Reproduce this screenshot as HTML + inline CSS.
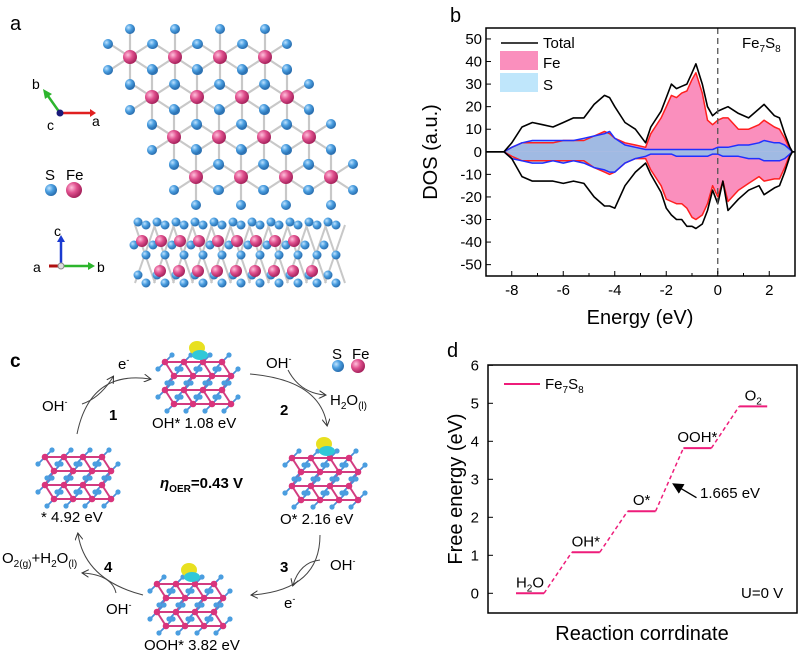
<!DOCTYPE html>
<html><head><meta charset="utf-8">
<style>
html,body{margin:0;padding:0;background:#fff;}
svg{display:block;font-family:"Liberation Sans",Arial,sans-serif;}
</style></head>
<body>
<svg id="fig" width="800" height="655" viewBox="0 0 800 655" xmlns="http://www.w3.org/2000/svg">
<defs>
<radialGradient id="gS" cx="35%" cy="35%" r="65%"><stop offset="0" stop-color="#bfe3ff"/><stop offset="0.5" stop-color="#4a9ee0"/><stop offset="1" stop-color="#2a6fb0"/></radialGradient>
<radialGradient id="gF" cx="35%" cy="35%" r="65%"><stop offset="0" stop-color="#ffc0dc"/><stop offset="0.5" stop-color="#e0508e"/><stop offset="1" stop-color="#a8245e"/></radialGradient>
<marker id="ah" markerWidth="8" markerHeight="8" refX="6" refY="4" orient="auto"><path d="M0,0 L7,4 L0,8" fill="none" stroke="#333" stroke-width="1"/></marker>
<marker id="ahk" markerWidth="8" markerHeight="8" refX="6" refY="4" orient="auto"><path d="M0,0 L8,4 L0,8 Z" fill="#000"/></marker>
</defs>

<!-- Panel a -->
<g>
<text x="10" y="30" font-size="20">a</text>
<g id="structTop"></g>
<g id="structSide"></g>
<g>
<line x1="60" y1="113" x2="48" y2="96" stroke="#2db52d" stroke-width="2.5"/>
<polygon points="43,89 52,94 45,99" fill="#2db52d"/>
<line x1="60" y1="113" x2="90" y2="113" stroke="#e02020" stroke-width="2.5"/>
<polygon points="90,109 96,113 90,117" fill="#e02020"/>
<circle cx="60" cy="113" r="3.5" fill="#1a1a7a"/>
<text x="32" y="89" font-size="14">b</text><text x="92" y="126" font-size="14">a</text><text x="47" y="130" font-size="14">c</text>
</g>
<g>
<text x="45" y="180" font-size="15">S</text><text x="66" y="180" font-size="15">Fe</text>
<circle cx="51" cy="190" r="6" fill="url(#gS)"/><circle cx="74" cy="190" r="8" fill="url(#gF)"/>
</g>
<g>
<line x1="61" y1="266" x2="61" y2="242" stroke="#1a3ad0" stroke-width="2.5"/><polygon points="57,242 61,235 65,242" fill="#1a3ad0"/>
<line x1="61" y1="266" x2="88" y2="266" stroke="#2db52d" stroke-width="2.5"/><polygon points="88,262 95,266 88,270" fill="#2db52d"/>
<line x1="61" y1="266" x2="49" y2="266" stroke="#b01010" stroke-width="3"/>
<circle cx="61" cy="266" r="3" fill="#ddd" stroke="#888"/>
<text x="54" y="236" font-size="14">c</text><text x="97" y="272" font-size="14">b</text><text x="33" y="272" font-size="14">a</text>
</g>
</g>

<!-- Panel b -->
<g>
<text x="450" y="22" font-size="20">b</text>
<g id="dos"></g>
</g>

<!-- Panel c -->
<g>
<text x="10" y="367" font-size="19" font-weight="bold">c</text>
<g id="structC"></g>
<g fill="none" stroke="#444" stroke-width="1">
<path d="M77,434 Q90,370 150,379" marker-end="url(#ah)"/>
<path d="M82,404 Q100,398 113,377" marker-end="url(#ah)"/>
<path d="M250,374 Q320,380 327,425" marker-end="url(#ah)"/>
<path d="M288,370 Q300,393 325,395" marker-end="url(#ah)"/>
<path d="M320,535 Q320,590 252,595" marker-end="url(#ah)"/>
<path d="M320,560 Q300,562 293,585" marker-end="url(#ah)"/>
<path d="M143,595 Q85,580 78,534" marker-end="url(#ah)"/>
<path d="M116,593 Q112,575 83,573" marker-end="url(#ah)"/>
</g>
<g font-size="15">
<text x="118" y="369">e<tspan font-size="9" dy="-6">-</tspan></text>
<text x="42" y="411">OH<tspan font-size="9" dy="-6">-</tspan></text>
<text x="109" y="420" font-weight="bold">1</text>
<text x="266" y="368">OH<tspan font-size="9" dy="-6">-</tspan></text>
<text x="330" y="405">H<tspan font-size="10" dy="4">2</tspan><tspan dy="-4">O</tspan><tspan font-size="10" dy="4">(l)</tspan></text>
<text x="280" y="415" font-weight="bold">2</text>
<text x="330" y="570">OH<tspan font-size="9" dy="-6">-</tspan></text>
<text x="280" y="572" font-weight="bold">3</text>
<text x="284" y="608">e<tspan font-size="9" dy="-6">-</tspan></text>
<text x="2" y="563">O<tspan font-size="10" dy="4">2(g)</tspan><tspan dy="-4">+H</tspan><tspan font-size="10" dy="4">2</tspan><tspan dy="-4">O</tspan><tspan font-size="10" dy="4">(l)</tspan></text>
<text x="104" y="572" font-weight="bold">4</text>
<text x="106" y="614">OH<tspan font-size="9" dy="-6">-</tspan></text>
<text x="152" y="428">OH* 1.08 eV</text>
<text x="41" y="522">* 4.92 eV</text>
<text x="280" y="524">O*  2.16 eV</text>
<text x="144" y="650">OOH*  3.82 eV</text>
<text x="160" y="488" font-weight="bold"><tspan font-style="italic">η</tspan><tspan font-size="10" dy="4">OER</tspan><tspan dy="-4">=0.43 V</tspan></text>
<text x="332" y="359">S</text><text x="352" y="359">Fe</text>
</g>
<circle cx="338" cy="366" r="6" fill="url(#gS)"/><circle cx="358" cy="366" r="7" fill="url(#gF)"/>
</g>

<!-- Panel d -->
<g>
<text x="447" y="357" font-size="20">d</text>
<g id="fe"></g>
</g>
</svg>

<script>
const NS="http://www.w3.org/2000/svg";
function mk(tag,attrs,parent){const e=document.createElementNS(NS,tag);for(const k in attrs)e.setAttribute(k,attrs[k]);parent.appendChild(e);return e;}

// ---------- Panel b data ----------
const energy=[-8.3,-8,-7.6,-7.2,-6.8,-6.4,-6.0,-5.6,-5.2,-4.8,-4.4,-4.2,-4.0,-3.6,-3.2,-2.8,-2.6,-2.2,-2.0,-1.8,-1.6,-1.4,-1.2,-1.0,-0.85,-0.6,-0.4,-0.2,0,0.2,0.4,0.8,1.2,1.6,1.8,2.2,2.4,2.6,2.8,2.9];
const totalUp=[0,4,11,13,12,11,13,15,15,21,25,24,20,13,10,4,11,18,24,30,28,29,30,35,39,30,20,16,18,19,20,17,15,19,21,16,15,8,2,0];
const feUp=[0,2,4,4,4,4,5,5,5,7,9,8,6,4,3,2,8,15,20,25,24,26,27,32,35,26,14,12,14,15,15,10,10,12,14,11,10,6,1,0];
const sUp=[0,2,4,5,5,5,5,5,6,7,8,9,6,3,2,1,1,1,1,1,1,1,1,1,1,1,1,1,2,2,2,3,3,4,5,4,4,3,1,0];
const totalDown=[0,-3,-11,-13,-13,-13,-14,-13,-14,-20,-24,-24,-25,-15,-9,-5,-10,-18,-25,-28,-30,-30,-33,-33,-34,-32,-26,-17,-23,-13,-26,-21,-17,-15,-19,-16,-15,-9,-2,0];
const feDown=[0,-2,-4,-4,-4,-4,-4,-4,-4,-7,-9,-10,-9,-5,-3,-3,-8,-15,-21,-22,-23,-23,-25,-29,-30,-28,-23,-15,-20,-13,-22,-17,-14,-11,-13,-12,-12,-7,-1,0];
const sDown=[0,-3,-4,-5,-5,-4,-5,-4,-5,-7,-8,-9,-9,-5,-3,-2,-1,-1,-1,-1,-2,-2,-2,-2,-2,-2,-2,-1,-1,-2,-2,-2,-3,-3,-4,-4,-4,-3,-1,0];
const dosXTicks=[-8,-6,-4,-2,0,2];
const dosYTicks=[-50,-40,-30,-20,-10,0,10,20,30,40,50];

// ---------- Panel d data ----------
const states=["H2O","OH*","O*","OOH*","O2"];
const freeEnergy=[0,1.08,2.16,3.82,4.92];
const feYTicks=[0,1,2,3,4,5,6];

(function(){
 const g=document.getElementById('dos');
 const L=486,R=795,T=28,B=276;
 const xs=e=>L+(e+9)/12*(R-L);
 const ys=v=>151.8-v*2.257;
 function area(a,fill,name){
  let d="M"+xs(energy[0])+","+ys(0);
  energy.forEach((e,i)=>d+=" L"+xs(e).toFixed(1)+","+ys(a[i]).toFixed(1));
  d+=" L"+xs(energy[energy.length-1])+","+ys(0)+"Z";
  const p=mk('path',{d:d,fill:fill},g);
  
  
 }
 function line(a,col,w,name){
  let d="";
  energy.forEach((e,i)=>d+=(i?" L":"M")+xs(e).toFixed(1)+","+ys(a[i]).toFixed(1));
  d="M"+L+","+ys(0)+" L"+d.slice(1)+" L"+R+","+ys(0);
  const p=mk('path',{d:d,fill:'none',stroke:col,'stroke-width':w,'stroke-linejoin':'round'},g);
  
  
 }
 area(feUp,'#fa8fbd','fe-fill-up');area(feDown,'#fa8fbd','fe-fill-down');
 area(sUp,'rgba(130,200,240,0.75)','s-fill-up');area(sDown,'rgba(130,200,240,0.75)','s-fill-down');
 line(feUp,'#ff2020',1.5,'fe-line-up');line(feDown,'#ff2020',1.5,'fe-line-down');
 line(sUp,'#2030ff',1.5,'s-line-up');line(sDown,'#2030ff',1.5,'s-line-down');
 line(totalUp,'#000',1.6,'total-line-up');line(totalDown,'#000',1.6,'total-line-down');
 const fl=mk('line',{x1:xs(0),x2:xs(0),y1:T,y2:B,stroke:'#555','stroke-dasharray':'6,4','stroke-width':1.3},g);
 
 
 const fr=mk('rect',{x:L,y:T,width:R-L,height:B-T,fill:'none',stroke:'#000','stroke-width':1.5},g);
 
 
 dosXTicks.forEach(t=>{mk('line',{x1:xs(t),x2:xs(t),y1:B,y2:B-5,stroke:'#000'},g);
  const tx=mk('text',{x:xs(t),y:B+19,'font-size':15,'text-anchor':'middle'},g);tx.textContent=t;
  
  
  if(t<2)mk('line',{x1:xs(t+1),x2:xs(t+1),y1:B,y2:B-3,stroke:'#000'},g);});
 dosYTicks.forEach(t=>{mk('line',{x1:L,x2:L+5,y1:ys(t),y2:ys(t),stroke:'#000'},g);
  const tx=mk('text',{x:L-4,y:ys(t)+5,'font-size':15,'text-anchor':'end'},g);tx.textContent=t;
  
  });
 const yl=mk('text',{x:0,y:0,'font-size':20,'text-anchor':'middle',transform:'translate(437,152) rotate(-90)'},g);yl.textContent='DOS (a.u.)';
 
 
 const xl=mk('text',{x:640,y:324,'font-size':20,'text-anchor':'middle'},g);xl.textContent='Energy (eV)';
 
 
 const lg=mk('g',{},g);
 
 
 mk('line',{x1:501,x2:538,y1:43,y2:43,stroke:'#000','stroke-width':1.6},lg);
 mk('rect',{x:500,y:51,width:38,height:19,fill:'#fa8fbd'},lg);
 mk('rect',{x:500,y:73,width:38,height:19,fill:'#bfe6fb'},lg);
 [['Total',48],['Fe',68],['S',90]].forEach(a=>{const t=mk('text',{x:543,y:a[1],'font-size':15},lg);t.textContent=a[0];});
 const ft=mk('text',{x:742,y:48,'font-size':15},g);
 ft.innerHTML='Fe<tspan font-size="10" dy="4">7</tspan><tspan dy="-4">S</tspan><tspan font-size="10" dy="4">8</tspan>';
 
 
})();

(function(){
 const g=document.getElementById('fe');
 const L=488,R=797,T=365,B=613;
 const ys=v=>593.3-v*38;
 const xc=i=>530+i*55.8;
 const fr=mk('rect',{x:L,y:T,width:R-L,height:B-T,fill:'none',stroke:'#000','stroke-width':1.5},g);
 
 
 feYTicks.forEach(t=>{mk('line',{x1:L,x2:L+5,y1:ys(t),y2:ys(t),stroke:'#000'},g);
  const tx=mk('text',{x:L-9,y:ys(t)+5,'font-size':15,'text-anchor':'end'},g);tx.textContent=t;
  
  });
 const disp={"H2O":'H<tspan font-size="10" dy="4">2</tspan><tspan dy="-4">O</tspan>',"O2":'O<tspan font-size="10" dy="4">2</tspan>'};
 states.forEach((s,i)=>{
  const l=mk('line',{x1:xc(i)-14,x2:xc(i)+14,y1:ys(freeEnergy[i]),y2:ys(freeEnergy[i]),stroke:'#ee1c7a','stroke-width':2},g);
  
  
  if(i<states.length-1){
   const c=mk('line',{x1:xc(i)+14,x2:xc(i+1)-14,y1:ys(freeEnergy[i]),y2:ys(freeEnergy[i+1]),stroke:'#ee1c7a','stroke-width':1.5,'stroke-dasharray':'4,3'},g);
   
   
  }
  const t=mk('text',{x:xc(i),y:ys(freeEnergy[i])-6,'font-size':15,'text-anchor':'middle'},g);
  t.innerHTML=disp[s]||s;
  
  
 });
 const ax=(xc(2)+14+xc(3)-14)/2+2, ay=(ys(freeEnergy[2])+ys(freeEnergy[3]))/2+4;
 const ar=mk('line',{x1:ax+25,x2:ax+3,y1:ay+14,y2:ay+1,stroke:'#000','stroke-width':1.4,'marker-end':'url(#ahk)'},g);
 
 
 const at=mk('text',{x:700,y:498,'font-size':15},g);at.textContent='1.665 eV';
 
 
 const u=mk('text',{x:741,y:598,'font-size':15},g);u.textContent='U=0 V';
 
 
 mk('line',{x1:504,x2:540,y1:384,y2:384,stroke:'#ee1c7a','stroke-width':2},g);
 const lt=mk('text',{x:545,y:389,'font-size':15},g);
 lt.innerHTML='Fe<tspan font-size="10" dy="4">7</tspan><tspan dy="-4">S</tspan><tspan font-size="10" dy="4">8</tspan>';
 
 
 const yl=mk('text',{x:0,y:0,'font-size':20,'text-anchor':'middle',transform:'translate(462,489) rotate(-90)'},g);yl.textContent='Free energy (eV)';
 
 
 const xl=mk('text',{x:642,y:640,'font-size':20,'text-anchor':'middle'},g);xl.textContent='Reaction corrdinate';
 
 
})();

// ---------- structures ----------
(function(){
 const top=document.getElementById('structTop');
 const bonds=mk('g',{stroke:'#c8c8c8','stroke-width':2.2},top),atoms=mk('g',{},top);
 for(let r=0;r<4;r++)for(let c=0;c<4;c++){
  const x=130+c*45+r*22, y=57+r*40;
  mk('line',{x1:x-20,y1:y-13,x2:x+20,y2:y+13},bonds);
  mk('line',{x1:x+20,y1:y-13,x2:x-20,y2:y+13},bonds);
  mk('line',{x1:x,y1:y-25,x2:x,y2:y+25},bonds);
  [[-22,-13],[22,-13],[0,-28],[-22,13],[22,13],[0,28]].forEach(o=>mk('circle',{cx:x+o[0],cy:y+o[1],r:5,fill:'url(#gS)'},atoms));
 }
 for(let r=0;r<4;r++)for(let c=0;c<4;c++){const x=130+c*45+r*22,y=57+r*40;mk('circle',{cx:x,cy:y,r:7,fill:'url(#gF)'},atoms);}
 const side=document.getElementById('structSide');
 const sb=mk('g',{stroke:'#c8c8c8','stroke-width':2},side),sa=mk('g',{},side);
 for(let i=0;i<11;i++){const x=135+i*19;mk('line',{x1:x,y1:225,x2:x+20,y2:283},sb);mk('line',{x1:x+20,y1:225,x2:x,y2:283},sb);}
 for(let i=0;i<11;i++){const x=138+i*19;
  [[0,222],[8,225],[-4,245],[8,255],[0,275],[8,283]].forEach(o=>mk('circle',{cx:x+o[0],cy:o[1],r:4.5,fill:'url(#gS)'},sa));}
 for(let i=0;i<9;i++){mk('circle',{cx:142+i*19,cy:241,r:6,fill:'url(#gF)'},sa);mk('circle',{cx:160+i*19,cy:271,r:6,fill:'url(#gF)'},sa);}
 const gc=document.getElementById('structC');
 function slab(ox,oy,name,blob){
  const s=mk('g',{},gc);
  
  
  const b=mk('g',{stroke:'#d23c80','stroke-width':2},s);const b2=mk('g',{stroke:'#4a8fd8','stroke-width':1.8},s);const a=mk('g',{},s);
  for(let r=0;r<4;r++)for(let c=0;c<4;c++){const x=ox+c*19+(r%2)*9,y=oy+r*14;
   if(r<3)mk('line',{x1:x,y1:y,x2:x+(r%2?-9:9),y2:y+14},b);
   if(c<3)mk('line',{x1:x,y1:y,x2:x+19,y2:y},b);
   mk('line',{x1:x,y1:y,x2:x-7,y2:y+7},b2);mk('line',{x1:x,y1:y,x2:x+7,y2:y-7},b2);}
  for(let r=0;r<4;r++)for(let c=0;c<4;c++){const x=ox+c*19+(r%2)*9,y=oy+r*14;
   mk('circle',{cx:x-7,cy:y+7,r:2.6,fill:'#4a9ee0'},a);mk('circle',{cx:x+7,cy:y-7,r:2.6,fill:'#4a9ee0'},a);
   mk('circle',{cx:x,cy:y,r:3.3,fill:'#d9347c'},a);}
  if(blob){mk('ellipse',{cx:ox+32,cy:oy-14,rx:8,ry:7,fill:'#e8e020'},s);mk('ellipse',{cx:ox+35,cy:oy-7,rx:8,ry:5,fill:'#30c8d8'},s);}
 }
 slab(165,362,'structure-oh',true);
 slab(45,457,'structure-clean',false);
 slab(292,458,'structure-o',true);
 slab(157,584,'structure-ooh',true);
})();
</script>
</body></html>
